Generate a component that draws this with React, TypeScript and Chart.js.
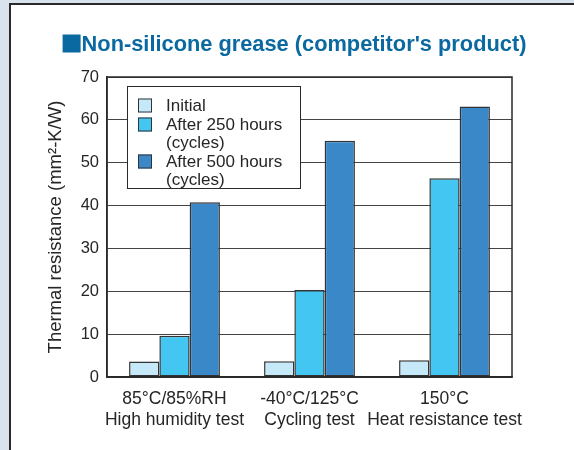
import React, { useEffect, useRef } from 'react';
import { Chart, registerables } from 'chart.js';

Chart.register(...registerables);

const FONT = "'Liberation Sans', Arial, Helvetica, sans-serif";

const titleText = "Non-silicone grease (competitor's product)";
const yAxisTitle = 'Thermal resistance (mm²-K/W)';
const categories = [
  ['85°C/85%RH', 'High humidity test'],
  ['-40°C/125°C', 'Cycling test'],
  ['150°C', 'Heat resistance test'],
];
const seriesNames = ['Initial', 'After 250 hours (cycles)', 'After 500 hours (cycles)'];
const legendLines = [['Initial'], ['After 250 hours', '(cycles)'], ['After 500 hours', '(cycles)']];
const initialValues = [3.6, 3.7, 3.9];
const after250Values = [9.6, 20.3, 46.4];
const after500Values = [40.8, 55.1, 63.1];
const seriesColors = ['#c6e9fa', '#43c6f1', '#3b88c9'];
const yMin = 0;
const yMax = 70;
const yStep = 10;

const TITLE_COLOR = '#0a69a1';
const TEXT_COLOR = '#262626';
const LINE_COLOR = '#2a2a2a';

const framePlugin = {
  id: 'frameAndExtras',
  afterDatasetsDraw(chart: any) {
    const { ctx, chartArea } = chart;
    ctx.save();
    // plot frame
    ctx.strokeStyle = LINE_COLOR;
    ctx.lineWidth = 1.5;
    ctx.strokeRect(chartArea.left, chartArea.top, chartArea.right - chartArea.left, chartArea.bottom - chartArea.top);

    // legend box
    const lx = chartArea.left + 20;
    const ly = chartArea.top + 9;
    const lw = 173;
    const lh = 102;
    ctx.fillStyle = '#ffffff';
    ctx.fillRect(lx, ly, lw, lh);
    ctx.lineWidth = 1;
    ctx.strokeStyle = LINE_COLOR;
    ctx.strokeRect(lx + 0.5, ly + 0.5, lw, lh);
    ctx.font = `17px ${FONT}`;
    ctx.textBaseline = 'alphabetic';
    ctx.textAlign = 'left';
    let iy = ly + 12.5;
    chart.data.datasets.forEach((ds: any, i: number) => {
      const lines = legendLines[i];
      ctx.fillStyle = ds.backgroundColor;
      ctx.fillRect(lx + 11, iy, 14, 14);
      ctx.lineWidth = 1;
      ctx.strokeStyle = '#333';
      ctx.strokeRect(lx + 11.5, iy + 0.5, 13, 13);
      ctx.fillStyle = TEXT_COLOR;
      lines.forEach((t, k) => {
        ctx.fillText(t, lx + 39, iy + 12.5 + k * 18);
      });
      iy += lines.length * 18 + 1;
    });

    // chart title
    ctx.font = `bold 21.8px ${FONT}`;
    const tw = ctx.measureText(titleText).width;
    const sq = 18;
    const total = sq + 1 + tw;
    const cx = (chartArea.left + chartArea.right) / 2 - 15;
    const sx = cx - total / 2;
    ctx.fillStyle = TITLE_COLOR;
    ctx.fillRect(sx, 34.5, sq, sq);
    ctx.fillText(titleText, sx + sq + 1, 50.5);
    ctx.restore();
  },
};

export default function App() {
  const ref = useRef<HTMLCanvasElement | null>(null);

  useEffect(() => {
    if (!ref.current) return;
    const chart = new Chart(ref.current, {
      type: 'bar',
      data: {
        labels: categories,
        datasets: [initialValues, after250Values, after500Values].map((vals, i) => ({
          label: seriesNames[i],
          data: vals,
          backgroundColor: seriesColors[i],
          borderColor: '#333333',
          borderWidth: 1.5,
          borderSkipped: false,
          categoryPercentage: 0.673,
          barPercentage: 1,
        })),
      },
      options: {
        responsive: false,
        animation: false,
        layout: { padding: { left: 10, right: 62, top: 77, bottom: 0 } },
        plugins: {
          legend: { display: false },
          title: { display: false },
          tooltip: { enabled: false },
        },
        scales: {
          x: {
            grid: { display: false, drawTicks: false },
            border: { display: true, color: LINE_COLOR, width: 1.5 },
            ticks: {
              color: TEXT_COLOR,
              font: { family: FONT, size: 17.5, lineHeight: 1.2 },
              padding: 12,
              maxRotation: 0,
              autoSkip: false,
            },
            afterFit(scale: any) {
              scale.height = 73;
            },
          },
          y: {
            min: yMin,
            max: yMax,
            grid: { color: '#444444', lineWidth: 1, drawTicks: false },
            border: { display: true, color: LINE_COLOR, width: 1.5 },
            ticks: {
              stepSize: yStep,
              color: TEXT_COLOR,
              font: { family: FONT, size: 16.5 },
              padding: 8,
            },
            title: {
              display: true,
              text: yAxisTitle,
              color: TEXT_COLOR,
              font: { family: FONT, size: 18.5 },
              padding: { top: 35, bottom: 0 },
            },
            afterFit(scale: any) {
              scale.width = 97;
            },
          },
        },
      },
      plugins: [framePlugin],
    });
    return () => chart.destroy();
  }, []);

  return (
    <div style={{ position: 'fixed', left: 0, top: 0, width: 574, height: 450, background: '#d9e3ee', overflow: 'hidden' }}>
      <div
        style={{
          position: 'absolute',
          left: 9,
          top: 3,
          width: 600,
          height: 480,
          background: '#ffffff',
          border: '2px solid #2a2a2a',
        }}
      />
      <canvas ref={ref} width={574} height={450} style={{ position: 'absolute', left: 0, top: 0 }} />
    </div>
  );
}
